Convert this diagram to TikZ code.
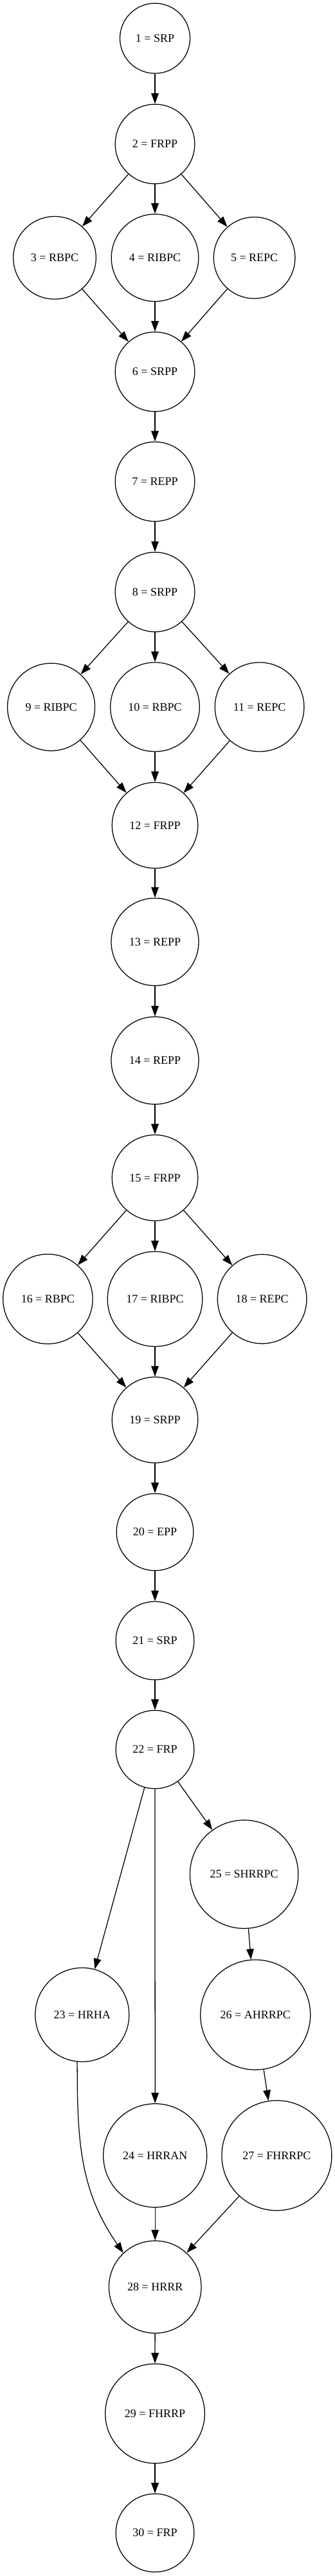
\documentclass[tikz,border=0pt]{standalone}
\usepackage{fontspec}
\setmainfont{Liberation Serif}
\usetikzlibrary{arrows.meta}
\tikzset{
  stage/.style={draw=black, line width=0.9pt, circle, inner sep=0pt, align=center,
    font=\fontsize{12.8}{15}\selectfont},
  flow/.style={-{Triangle[length=0.41cm,width=0.29cm]}, line width=0.9pt, draw=black},
  curved/.style={-{Triangle[length=0.41cm,width=0.29cm]}, line width=0.9pt, draw=black}
}
\begin{document}
\begin{tikzpicture}[x=1cm,y=1cm]
    \useasboundingbox (0,0) rectangle (13.025,-100.125);
    \node[stage, minimum size=2.725cm] (n1) at (6.025,-1.49) {1 = SRP};
    \node[stage, minimum size=3.09cm] (n2) at (6.025,-5.598) {2 = FRPP};
    \node[stage, minimum size=3.215cm] (n3) at (2.125,-10.02) {3 = RBPC};
    \node[stage, minimum size=3.39cm] (n4) at (6.025,-10.02) {4 = RIBPC};
    \node[stage, minimum size=3.165cm] (n5) at (9.89,-10.02) {5 = REPC};
    \node[stage, minimum size=3.09cm] (n6) at (6.025,-14.45) {6 = SRPP};
    \node[stage, minimum size=3.09cm] (n7) at (6.025,-18.72) {7 = REPP};
    \node[stage, minimum size=3.09cm] (n8) at (6.025,-23.01) {8 = SRPP};
    \node[stage, minimum size=3.4cm] (n9) at (1.99,-27.48) {9 = RIBPC};
    \node[stage, minimum size=3.465cm] (n10) at (6.025,-27.48) {10 = RBPC};
    \node[stage, minimum size=3.465cm] (n11) at (10.09,-27.48) {11 = REPC};
    \node[stage, minimum size=3.335cm] (n12) at (6.025,-32.08) {12 = FRPP};
    \node[stage, minimum size=3.4cm] (n13) at (6.025,-36.61) {13 = REPP};
    \node[stage, minimum size=3.4cm] (n14) at (6.025,-41.22) {14 = REPP};
    \node[stage, minimum size=3.335cm] (n15) at (6.025,-45.78) {15 = FRPP};
    \node[stage, minimum size=3.485cm] (n16) at (1.86,-50.49) {16 = RBPC};
    \node[stage, minimum size=3.69cm] (n17) at (6.025,-50.49) {17 = RIBPC};
    \node[stage, minimum size=3.465cm] (n18) at (10.19,-50.49) {18 = REPC};
    \node[stage, minimum size=3.335cm] (n19) at (6.025,-55.19) {19 = SRPP};
    \node[stage, minimum size=2.99cm] (n20) at (6.025,-59.55) {20 = EPP};
    \node[stage, minimum size=3.04cm] (n21) at (6.025,-63.77) {21 = SRP};
    \node[stage, minimum size=3.04cm] (n22) at (6.025,-68.0) {22 = FRP};
    \node[stage, minimum size=4.21cm] (n25) at (9.49,-72.85) {25 = SHRRPC};
    \node[stage, minimum size=3.65cm] (n23) at (3.195,-78.31) {23 = HRHA};
    \node[stage, minimum size=4.275cm] (n26) at (9.93,-78.31) {26 = AHRRPC};
    \node[stage, minimum size=4.025cm] (n24) at (6.03,-83.78) {24 = HRRAN};
    \node[stage, minimum size=4.275cm] (n27) at (10.76,-83.78) {27 = FHRRPC};
    \node[stage, minimum size=3.59cm] (n28) at (6.03,-88.89) {28 = HRRR};
    \node[stage, minimum size=3.865cm] (n29) at (6.025,-93.81) {29 = FHRRP};
    \node[stage, minimum size=3.04cm] (n30) at (6.025,-98.45) {30 = FRP};
    \draw[flow] (n1) -- (n2);
    \draw[flow] (n2) -- (n3);
    \draw[flow] (n2) -- (n4);
    \draw[flow] (n2) -- (n5);
    \draw[flow] (n3) -- (n6);
    \draw[flow] (n4) -- (n6);
    \draw[flow] (n5) -- (n6);
    \draw[flow] (n6) -- (n7);
    \draw[flow] (n7) -- (n8);
    \draw[flow] (n8) -- (n9);
    \draw[flow] (n8) -- (n10);
    \draw[flow] (n8) -- (n11);
    \draw[flow] (n9) -- (n12);
    \draw[flow] (n10) -- (n12);
    \draw[flow] (n11) -- (n12);
    \draw[flow] (n12) -- (n13);
    \draw[flow] (n13) -- (n14);
    \draw[flow] (n14) -- (n15);
    \draw[flow] (n15) -- (n16);
    \draw[flow] (n15) -- (n17);
    \draw[flow] (n15) -- (n18);
    \draw[flow] (n16) -- (n19);
    \draw[flow] (n17) -- (n19);
    \draw[flow] (n18) -- (n19);
    \draw[flow] (n19) -- (n20);
    \draw[flow] (n20) -- (n21);
    \draw[flow] (n21) -- (n22);
    \draw[flow] (n22) -- (n23);
    \draw[flow] (n22) -- (n24);
    \draw[flow] (n22) -- (n25);
    \draw[flow] (n25) -- (n26);
    \draw[flow] (n26) -- (n27);
    \draw[curved] (n23.264) to[out=-90,in=125] (n28.133);
    \draw[flow] (n24) -- (n28);
    \draw[flow] (n27) -- (n28);
    \draw[flow] (n28) -- (n29);
    \draw[flow] (n29) -- (n30);
  \end{tikzpicture}
\end{document}
